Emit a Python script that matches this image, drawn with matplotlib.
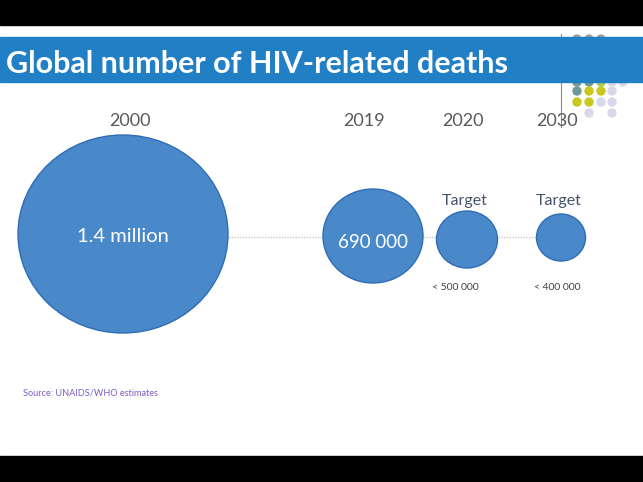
import matplotlib.pyplot as plt
from matplotlib.patches import Ellipse, Rectangle, Circle

# data
years = ['2000', '2019', '2020', '2030']
deaths = [1400000, 690000, 500000, 400000]
value_labels = ['1.4 million', '690 000', '< 500 000', '< 400 000']
is_target = [False, False, True, True]
title = 'Global number of HIV-related deaths'
source = 'Source: UNAIDS/WHO estimates'

# layout (pixels, y down)
cx = [123, 373, 467, 561]
cy = [234, 236, 239.5, 237.5]
rx = [105, 50, 30.5, 24.5]
ry = [99, 47, 28.5, 23.5]
year_x = [130, 364, 463, 557]
target_label_x = [None, None, 455, 557]

plt.rcParams['font.family'] = ['Lato', 'DejaVu Sans']

fig = plt.figure(figsize=(6.43, 4.82), dpi=100)
ax = fig.add_axes([0, 0, 1, 1])
ax.set_xlim(0, 643)
ax.set_ylim(482, 0)
ax.axis('off')

# black bars
ax.add_patch(Rectangle((0, 0), 643, 25, color='black', zorder=10))
ax.add_patch(Rectangle((0, 456), 643, 26, color='black', zorder=10))

# decorative dots from the template
dot_cols = [577, 589, 601, 612, 623]
dot_rows = [
    (39, ['#a0a0a0', '#a0a0a0', '#a0a0a0', None, None]),
    (82, ['#6f9a9a', '#6f9a9a', '#a8c850', '#d8d8ea', '#d8d8ea']),
    (91, ['#6f9a9a', '#c8c820', '#c8c820', '#d8d8ea', None]),
    (102, ['#c8c820', '#c8c820', '#d8d8ea', '#d8d8ea', None]),
    (113, [None, '#d8d8ea', None, '#d8d8ea', None]),
]
for y, cols in dot_rows:
    for x, c in zip(dot_cols, cols):
        if c:
            ax.add_patch(Circle((x, y), 4, color=c, zorder=1))
ax.plot([561, 561], [34, 127], color='#8a8a8a', lw=0.8, zorder=1)

# title banner
ax.add_patch(Rectangle((0, 37), 643, 45, color='#2180c5', zorder=3))
ax.text(6, 64, title, color='white', fontsize=22, fontweight='bold',
        ha='left', va='center', zorder=4)

# connecting dotted line
ax.plot([cx[0], cx[-1]], [237, 237], color='#c8c8c8', lw=1, ls=(0, (1, 1)), zorder=2)

for i in range(len(years)):
    ax.add_patch(Ellipse((cx[i], cy[i]), 2 * rx[i], 2 * ry[i], facecolor='#4a89c9',
                         edgecolor='#2f6cb5', lw=1, zorder=5))
    ax.text(year_x[i], 121, years[i], color='#595959', fontsize=13,
            ha='center', va='center', zorder=6)
    if is_target[i]:
        ax.text(cx[i] - 2, 201, 'Target', color='#44546a', fontsize=11.5,
                ha='center', va='center', zorder=6)
        ax.text(target_label_x[i], 288, value_labels[i], color='#404040',
                fontsize=7.5, ha='center', va='center', zorder=6)
    else:
        ax.text(cx[i], cy[i] + 3 + (3 if i == 1 else 0), value_labels[i], color='white',
                fontsize=14.5 if i == 0 else 13.5, ha='center', va='center', zorder=6)

ax.text(23, 393, source, color='#7b5cc4', fontsize=6.6, ha='left', va='center', zorder=6)

fig.savefig('out.png', dpi=100, facecolor='white')
